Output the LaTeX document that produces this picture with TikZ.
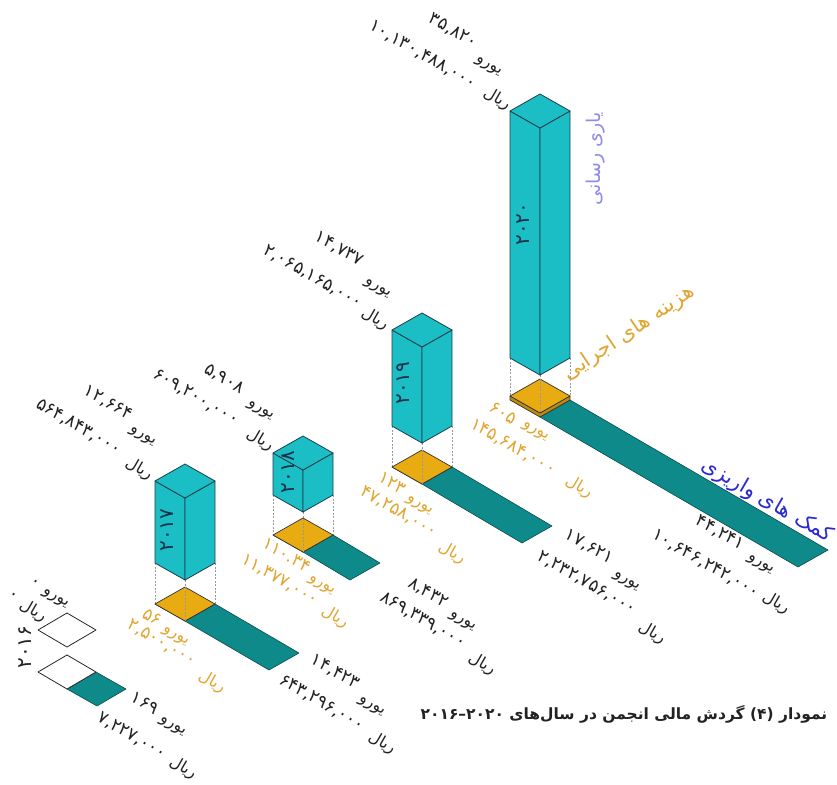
\documentclass[tikz,border=0pt]{standalone}
\usepackage{fontspec}
\newfontfamily\pfont[Script=Arabic]{DejaVu Sans}
\TeXXeTstate=1
\usetikzlibrary{positioning}

\definecolor{colcyan}{HTML}{1BBEC5}
\definecolor{coledge}{HTML}{1B3F4E}
\definecolor{barteal}{HTML}{0F8A8A}
\definecolor{baredge}{HTML}{0B4A4A}
\definecolor{gold}{HTML}{E9AB12}
\definecolor{golddark}{HTML}{C08A0C}
\definecolor{goldtxt}{HTML}{E0A632}
\definecolor{lavtxt}{HTML}{8E8CE8}
\definecolor{bluetxt}{HTML}{2A2AD0}
\definecolor{lbltxt}{HTML}{222222}
\definecolor{yrtxt}{HTML}{15304A}

\newcommand\yoro{{\fontsize{16}{18}\selectfont\beginR یورو\endR}}
\newcommand\riyal{{\fontsize{16}{18}\selectfont\beginR ریال\endR}}

\tikzset{
  face/.style={fill=colcyan, draw=coledge, line width=0.8pt, line join=round},
  base/.style={fill=gold, draw=black!80, line width=0.7pt, line join=round},
  bar/.style={fill=barteal, draw=baredge, line width=0.6pt, line join=round},
  empty/.style={fill=white, draw=black!85, line width=0.8pt, line join=round},
  guide/.style={draw=black!40, line width=0.4pt, dash pattern=on 2pt off 1.5pt},
  amt/.style={font=\pfont\fontsize{17.5}{20}\selectfont, text=lbltxt, rotate=-30, inner sep=0pt},
  amtg/.style={amt, text=goldtxt},
  year/.style={font=\pfont\fontsize{20}{22}\selectfont, text=yrtxt, rotate=90, inner sep=0pt},
  heading/.style={font=\pfont\fontsize{19}{22}\selectfont, inner sep=0pt},
}

\begin{document}
\begin{tikzpicture}[x=1pt, y=-1pt]
  \useasboundingbox (0,0) rectangle (837,784);

  \foreach \cx/\ty/\by/\oy/\vx/\vy/\th in {540/94/375/379/258/150/4, 422/313/443/450/100/59/0, 303/436/512/518/47/28/0, 185/464/580/587/84/49/0}{
    \draw[bar] (\cx+30,\oy+17+\th) -- ++(\vx,\vy) -- ++(-30,17) -- (\cx,\oy+34+\th) -- cycle;
    \draw[guide] (\cx-30,\by-17) -- (\cx-30,\oy+17);
    \draw[guide] (\cx+30,\by-17) -- (\cx+30,\oy+17);
    \draw[base, fill=golddark] (\cx-30,\oy+17) -- (\cx,\oy+34) -- (\cx+30,\oy+17) -- (\cx+30,\oy+17+\th) -- (\cx,\oy+34+\th) -- (\cx-30,\oy+17+\th) -- cycle;
    \draw[base] (\cx,\oy) -- (\cx+30,\oy+17) -- (\cx,\oy+34) -- (\cx-30,\oy+17) -- cycle;
    \draw[guide] (\cx,\by) -- (\cx,\oy+34);
    \draw[face] (\cx-30,\ty+17) -- (\cx,\ty+34) -- (\cx,\by) -- (\cx-30,\by-17) -- cycle;
    \draw[face] (\cx+30,\ty+17) -- (\cx,\ty+34) -- (\cx,\by) -- (\cx+30,\by-17) -- cycle;
    \draw[face] (\cx,\ty) -- (\cx+30,\ty+17) -- (\cx,\ty+34) -- (\cx-30,\ty+17) -- cycle;
  }

  \draw[empty] (67,613) -- (96,630) -- (67,647) -- (38,630) -- cycle;
  \draw[bar] (96,672) -- (126,689) -- (97,706) -- (67,689) -- cycle;
  \draw[empty] (67,655) -- (96,672) -- (67,689) -- (38,672) -- cycle;

  \node[year] (y20) at (523,224) {۲۰۲۰};
  \node[year] (y19) at (403,383) {۲۰۱۹};
  \node[year] (y18) at (288,472) {۲۰۱۸};
  \node[year] (y17) at (167,530) {۲۰۱۷};
  \node[year, text=lbltxt] (y16) at (25,647) {۲۰۱۶};

  \node[amt] (c20n1) at (453,31) {۳۵,۸۲۰};
  \node[amt] (c20w1) at (488,67) {\yoro};
  \node[amt] (c20n2) at (423,55) {۱۰,۱۳۰,۴۸۸,۰۰۰};
  \node[amt] (c20w2) at (497,99) {\riyal};

  \node[amt] (c19n1) at (339,249) {۱۴,۷۳۷};
  \node[amt] (c19w1) at (377,289) {\yoro};
  \node[amt] (c19n2) at (313,277) {۲,۰۶۵,۱۶۵,۰۰۰};
  \node[amt] (c19w2) at (375,319) {\riyal};

  \node[amt] (c18n1) at (224,379) {۵,۹۰۸};
  \node[amt] (c18w1) at (260,411) {\yoro};
  \node[amt] (c18n2) at (196,397) {۶۰۹,۲۰۰,۰۰۰};
  \node[amt] (c18w2) at (260,440) {\riyal};

  \node[amt] (c17n1) at (108,403) {۱۲,۶۶۴};
  \node[amt] (c17w1) at (142,437) {\yoro};
  \node[amt] (c17n2) at (79,427) {۵۶۴,۸۴۳,۰۰۰};
  \node[amt] (c17w2) at (139,469) {\riyal};

  \node[amt] (c16n1) at (35,583) {۰};
  \node[amt] (c16w1) at (55,599) {\yoro};
  \node[amt] (c16n2) at (13,596) {۰};
  \node[amt] (c16w2) at (33,611) {\riyal};

  \node[amt] (t16n1) at (145,703) {۱۶۹};
  \node[amt] (t16w1) at (172,727) {\yoro};
  \node[amt] (t16n2) at (132,736) {۷,۲۲۷,۰۰۰};
  \node[amt] (t16w2) at (183,768) {\riyal};

  \node[amt] (t17n1) at (335,672) {۱۴,۴۲۳};
  \node[amt] (t17w1) at (371,707) {\yoro};
  \node[amt] (t17n2) at (322,703) {۶۴۳,۲۹۶,۰۰۰};
  \node[amt] (t17w2) at (382,743) {\riyal};

  \node[amtg] (b17n1) at (152,617) {۵۶};
  \node[amtg] (b17w1) at (175,637) {\yoro};
  \node[amtg] (b17n2) at (162,643) {۲,۵۰۰,۰۰۰};
  \node[amtg] (b17w2) at (212,682) {\riyal};

  \node[amtg] (b18n1) at (287,555) {۱۱۰.۳۴};
  \node[amtg] (b18w1) at (321,586) {\yoro};
  \node[amtg] (b18n2) at (280,580) {۱۱,۳۷۷,۰۰۰};
  \node[amtg] (b18w2) at (335,617) {\riyal};

  \node[amt] (t18n1) at (428,593) {۸,۴۳۲};
  \node[amt] (t18w1) at (462,622) {\yoro};
  \node[amt] (t18n2) at (423,620) {۸۶۹,۳۳۹,۰۰۰};
  \node[amt] (t18w2) at (482,664) {\riyal};

  \node[amtg] (b19n1) at (392,483) {۱۲۳};
  \node[amtg] (b19w1) at (419,506) {\yoro};
  \node[amtg] (b19n2) at (399,512) {۴۷,۲۵۸,۰۰۰};
  \node[amtg] (b19w2) at (452,553) {\riyal};

  \node[amt] (t19n1) at (589,547) {۱۷,۶۲۱};
  \node[amt] (t19w1) at (626,582) {\yoro};
  \node[amt] (t19n2) at (587,583) {۲,۲۳۲,۷۵۶,۰۰۰};
  \node[amt] (t19w2) at (652,633) {\riyal};

  \node[amtg] (b20n1) at (503,413) {۶۰۵};
  \node[amtg] (b20w1) at (535,432) {\yoro};
  \node[amtg] (b20n2) at (513,447) {۱۴۵,۶۸۴,۰۰۰};
  \node[amtg] (b20w2) at (579,487) {\riyal};

  \node[amt] (t20n1) at (720,533) {۴۴,۲۴۱};
  \node[amt] (t20w1) at (760,565) {\yoro};
  \node[amt] (t20n2) at (706,564) {۱۰,۶۴۶,۲۴۲,۰۰۰};
  \node[amt] (t20w2) at (776,603) {\riyal};

  \node[heading, text=lavtxt, rotate=90] (aid) at (596,159) {\beginR یاری رسانی\endR};
  \node[heading, text=goldtxt, rotate=34, font=\pfont\fontsize{21}{24}\selectfont] (cost) at (629,333) {\beginR هزینه های اجرایی\endR};
  \node[heading, text=bluetxt, rotate=-30, font=\pfont\fontsize{21}{24}\selectfont] (gift) at (767,501) {\beginR کمک های واریزی\endR};

  \node[font=\pfont\bfseries\fontsize{15.5}{18}\selectfont, text=lbltxt, inner sep=0pt] (cap) at (624,714) {۲۰۲۰–۲۰۱۶ \beginR گردش مالی انجمن در سال‌های\endR{} (۴) \beginR نمودار\endR};
\end{tikzpicture}
\end{document}
